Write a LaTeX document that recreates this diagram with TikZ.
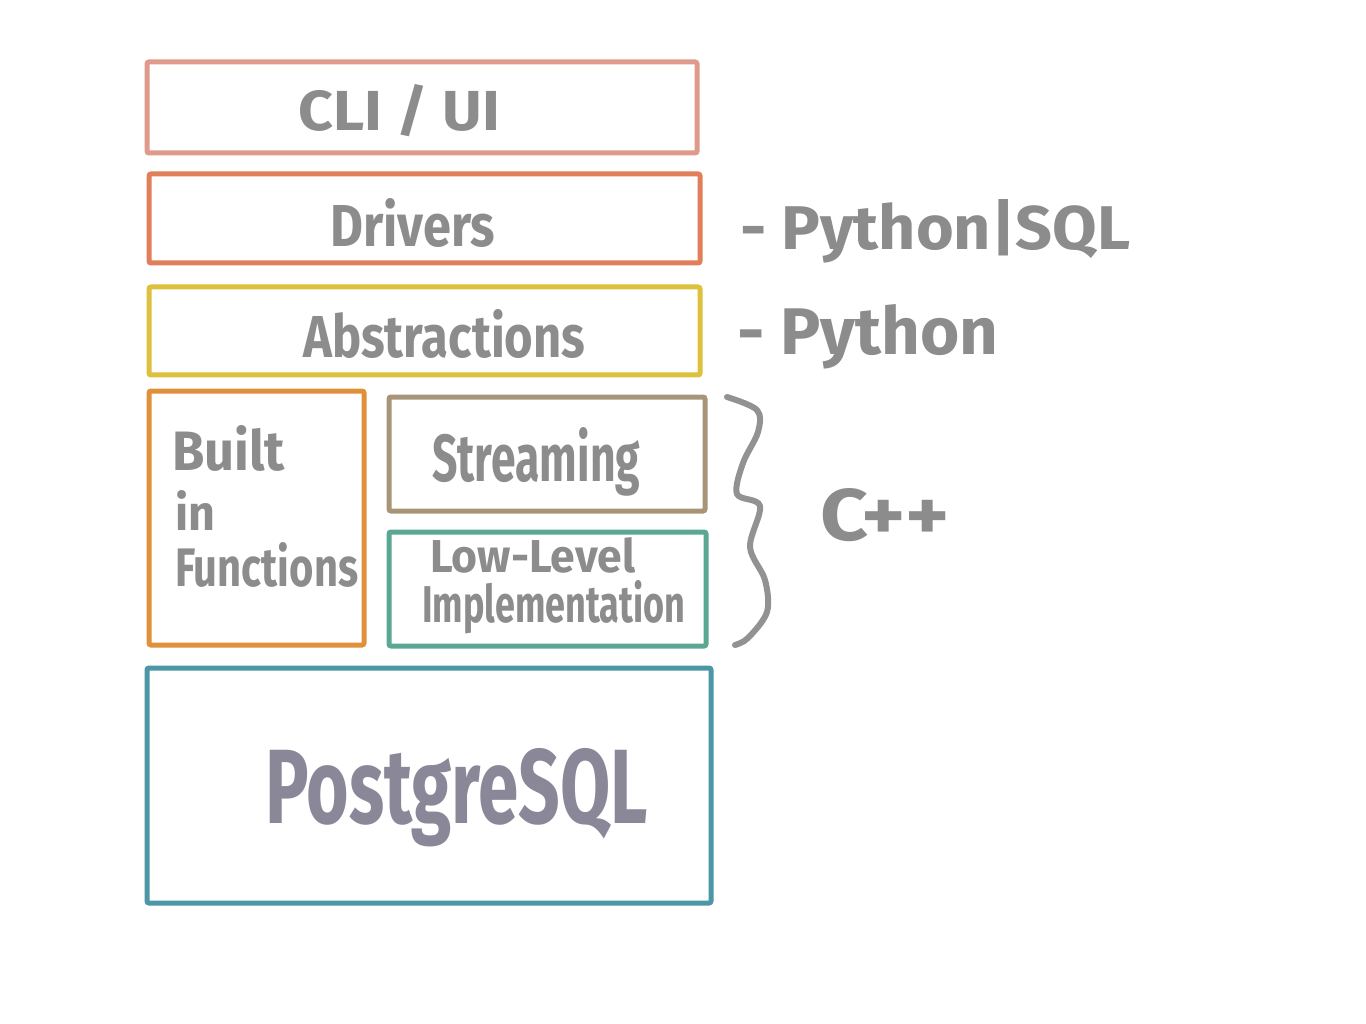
\documentclass[tikz,border=0pt]{standalone}
\usepackage{fontspec}
\setmainfont{Fira Sans}
\usepackage{graphicx}
\definecolor{cClil}{HTML}{E09A8C}
\definecolor{cDrv}{HTML}{E07F5A}
\definecolor{cAbs}{HTML}{DDC03C}
\definecolor{cBif}{HTML}{E09038}
\definecolor{cStr}{HTML}{A89578}
\definecolor{cLow}{HTML}{5AA894}
\definecolor{cPg}{HTML}{4C96A6}
\definecolor{ink}{HTML}{8C8C8C}
\definecolor{inkpg}{HTML}{8A8898}
\newcommand\fitt[3]{\resizebox{#1pt}{#2pt}{#3}}
\tikzset{
  layer/.style={draw, line width=5pt, rounded corners=2pt},
  hw/.style={anchor=base west, inner sep=0pt, text=ink, font=\bfseries},
  bracestyle/.style={draw=ink!95, line width=6pt, line cap=round, line join=round}
}
\begin{document}
\begin{tikzpicture}[x=1pt,y=-1pt]
\useasboundingbox[fill=white] (0,0) rectangle (1366,1024);
% boxes
\draw[layer, cClil] (147,62) rectangle (697,153);
\draw[layer, cDrv] (149,174) rectangle (700,263);
\draw[layer, cAbs] (149,287) rectangle (700,375);
\draw[layer, cBif] (149,391) rectangle (364,645);
\draw[layer, cStr] (389,397) rectangle (705,511);
\draw[layer, cLow] (389,532) rectangle (706,646);
\draw[layer, cPg] (147,668) rectangle (711,903);
% texts
\node[hw] (tcli) at (298,131) {\fitt{202}{46}{CLI / UI}};
\node[hw] (tdrv) at (330,247) {\fitt{165}{48}{Drivers}};
\node[hw] (tabs) at (303,358) {\fitt{282}{48}{Abstractions}};
\node[hw] (tb1) at (172,470) {\fitt{113}{45}{Built}};
\node[hw] (tb2) at (175,530) {\fitt{40}{40}{in}};
\node[hw] (tb3) at (175,586) {\fitt{183}{44}{Functions}};
\node[hw] (tstr) at (432,481) {\fitt{208}{54}{Streaming}};
\node[hw] (tlow1) at (430,572) {\fitt{205}{35}{Low-Level}};
\node[hw] (tlow2) at (422,622) {\fitt{263}{42}{Implementation}};
\node[hw, text=inkpg] (tpg) at (265,823) {\fitt{383}{75}{PostgreSQL}};
\node[hw] (tpysql) at (740,250) {\fitt{390}{50}{- Python|SQL}};
\node[hw] (tpy) at (737,355) {\fitt{261}{50}{- Python}};
\node[hw] (tcpp) at (820,540) {\fitt{130}{52}{C++}};
% brace
\draw[bracestyle] plot[smooth, tension=0.55] coordinates {(727,397) (757,410) (758,432) (743,463) (737,494) (760,506) (750,547) (765,580) (767,612) (748,638) (735,645)};
\end{tikzpicture}
\end{document}
